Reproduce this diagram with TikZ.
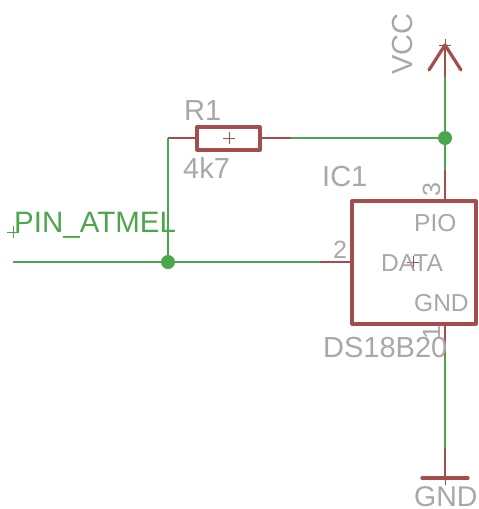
\documentclass[tikz,border=0pt]{standalone}
\usepackage{fontspec}
\setmainfont{Liberation Sans}
\definecolor{netgreen}{HTML}{4CA64C}
\definecolor{symred}{HTML}{A54D4D}
\definecolor{txtgray}{HTML}{A8A8A8}
\tikzset{
  x=1pt,y=-1pt,
  wire/.style={draw=netgreen,line width=1.6pt},
  pinline/.style={draw=symred,line width=1.6pt},
  outline/.style={draw=symred,line width=3.2pt,line join=round,line cap=round},
  crossmark/.style={draw=symred,line width=0.7pt},
  dot/.style={circle,fill=netgreen,inner sep=0pt,minimum size=14pt},
  lab/.style={text=txtgray,inner sep=0pt,font=\fontsize{29}{29}\selectfont},
  inlab/.style={text=txtgray,inner sep=0pt,font=\fontsize{24.5}{24.5}\selectfont},
  pinlab/.style={text=txtgray,inner sep=0pt,font=\fontsize{25}{25}\selectfont},
  netlab/.style={text=netgreen,inner sep=0pt,font=\fontsize{29.5}{29.5}\selectfont},
}
\begin{document}
\begin{tikzpicture}
\useasboundingbox (0,0) rectangle (479,509);
\fill[white] (0,0) rectangle (479,509);
% anchors
\node[dot] (j1) at (445,138) {};
\node[dot] (j2) at (168,262) {};
\coordinate (netstart) at (13,262);
\coordinate (p2g) at (320,262);
\coordinate (p2) at (352,262);
\coordinate (rl) at (197,138);
\coordinate (rr) at (260,138);
\coordinate (rlg) at (168,138);
\coordinate (rrg) at (291,138);
\coordinate (vcc) at (445,45);
\coordinate (vccg) at (445,77);
\coordinate (p3g) at (445,170);
\coordinate (p3) at (445,202);
\coordinate (p1) at (445,324);
\coordinate (p1g) at (445,355);
\coordinate (gndg) at (445,448);
\coordinate (gnd) at (445,478);
% wires
\draw[wire] (netstart) -- (j2) -- (p2g);
\draw[wire] (j2) -- (rlg);
\draw[wire] (rrg) -- (j1);
\draw[wire] (vccg) -- (j1) -- (p3g);
\draw[wire] (p1g) -- (gndg);
% pins
\draw[pinline] (rlg) -- (rl);
\draw[pinline] (rr) -- (rrg);
\draw[pinline] (p2g) -- (p2);
\draw[pinline] (p3g) -- (p3);
\draw[pinline] (p1) -- (p1g);
\draw[pinline] (gndg) -- (gnd);
\draw[pinline] (vcc) -- (vccg);
% symbols
\node[outline,minimum width=63pt,minimum height=23pt,inner sep=0pt] (r1) at (228.5,138.5) {};
\node[outline,minimum width=124pt,minimum height=123pt,inner sep=0pt] (ic) at (414,262.5) {};
\draw[outline] (429,70) -- (vcc) -- (461,70);
\draw[outline] (422,478) -- (468,478);
% origin crosses
\draw[crossmark] (223,138) -- (235,138) (229,132) -- (229,144);
\draw[crossmark] (407,262) -- (419,262) (413,256) -- (413,268);
\draw[crossmark] (439,45) -- (451,45) (445,39) -- (445,51);
\draw[crossmark] (445,478) -- (445,485);
\draw[draw=netgreen,line width=0.7pt] (7,232) -- (19,232) (13,226) -- (13,238);
% labels
\node[lab,anchor=base west] (tR) at (184,120) {R1};
\node[lab,anchor=base west] (t4) at (183,178) {4k7};
\node[lab,anchor=base west] (tIC) at (322,186) {IC1};
\node[lab,anchor=base west] (tDS) at (323,357) {DS18B20};
\node[lab,anchor=base west,font=\fontsize{28.5}{28.5}\selectfont] (tGND) at (414,506.5) {GND};
\node[lab,anchor=base west,rotate=90] (tVCC) at (412,75) {VCC};
\node[inlab,anchor=base west] (tPIO) at (414,231) {PIO};
\node[inlab,anchor=base west] (tDATA) at (381,271) {DATA};
\node[inlab,anchor=base west] (tGN) at (414,311) {GND};
\node[pinlab,anchor=base west] (t2) at (333,258) {2};
\node[pinlab,anchor=base west,rotate=90] (t3) at (440,197) {3};
\node[pinlab,anchor=base west,rotate=90] (t1) at (440,340) {1};
\node[netlab,anchor=base west] (tPin) at (14,232) {PIN\_ATMEL};
\end{tikzpicture}
\end{document}
